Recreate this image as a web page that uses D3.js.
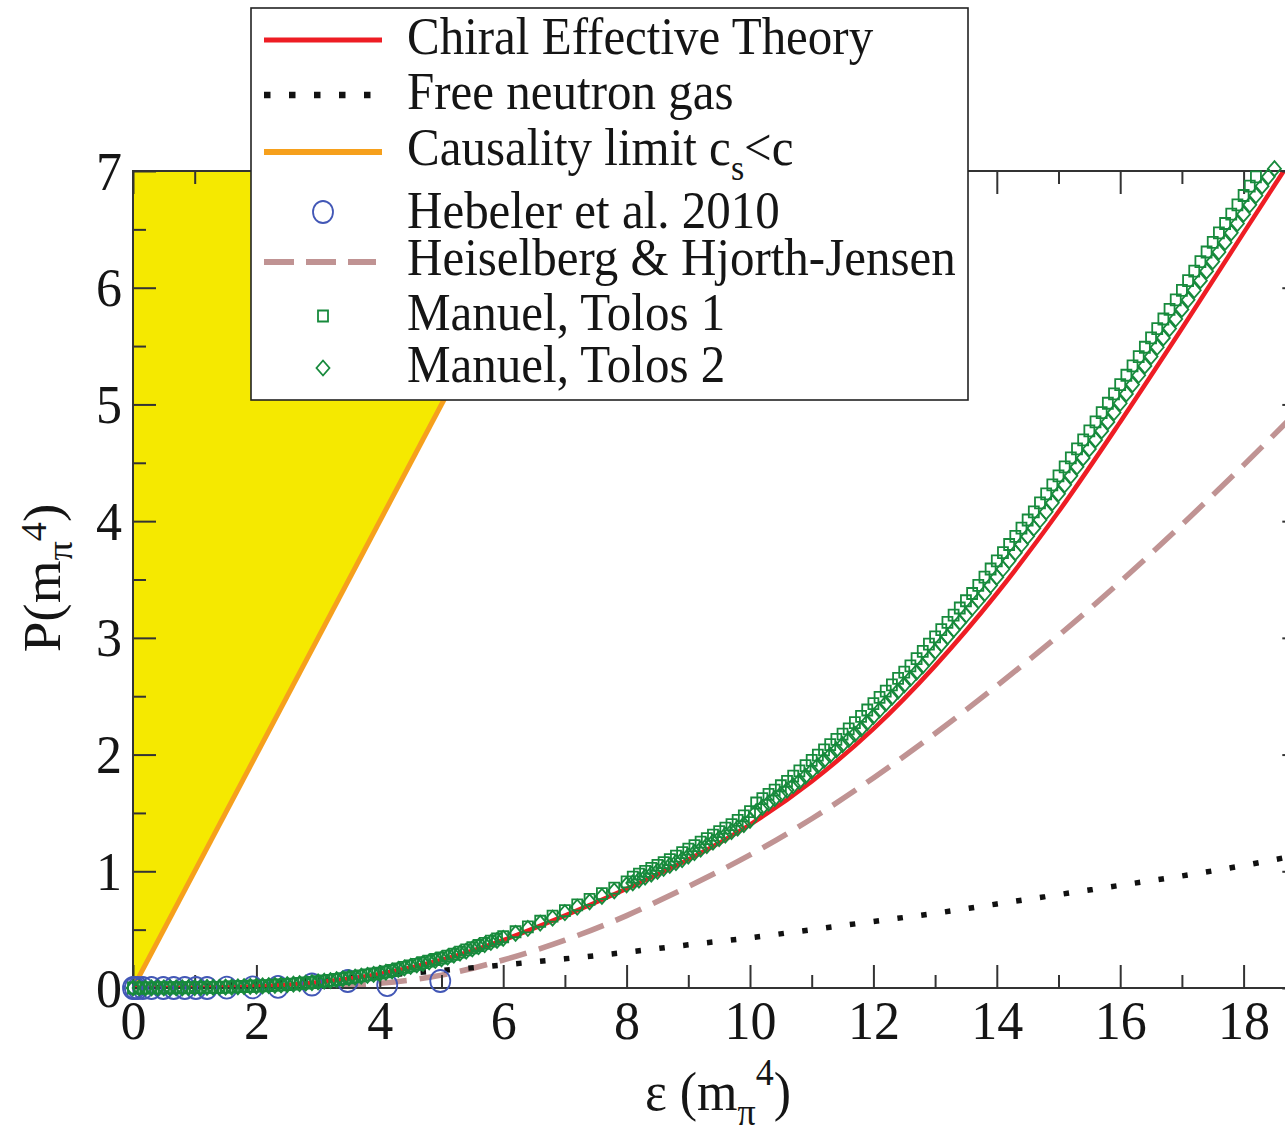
<!DOCTYPE html>
<html>
<head>
<meta charset="utf-8">
<script src="https://cdn.jsdelivr.net/npm/d3@7"></script>
<style>
  body { margin: 0; background: #fff; }
  svg { display: block; }
  text { font-family: "Liberation Serif", "Times New Roman", serif; fill: #151515; }
</style>
</head>
<body>
<svg id="chart" width="1285" height="1136"></svg>
<script>
// ---- data (energy density ε and pressure P, both in m_π^4) ----
const xTicksMajor = [0, 2, 4, 6, 8, 10, 12, 14, 16, 18];
const xTicksMinor = [1, 3, 5, 7, 9, 11, 13, 15, 17];
const yTicksMajor = [0, 1, 2, 3, 4, 5, 6, 7];
const yTicksMinor = [0.5, 1.5, 2.5, 3.5, 4.5, 5.5, 6.5];

// causality limit P = ε
const causalE = [0, 7.2];
const causalP = [0, 7.2];

// chiral effective theory
const chiralE = [0, 1, 2, 3, 4, 5, 6, 7, 8, 9, 10, 11, 12, 13, 14, 15, 16, 17, 18, 18.65];
const chiralP = [0, 0.003, 0.015, 0.05, 0.12, 0.24, 0.41, 0.62, 0.85, 1.10, 1.40, 1.77, 2.22, 2.76, 3.38, 4.08, 4.85, 5.65, 6.47, 7.0];

// free neutron gas
const freeE = [0, 1, 2, 3, 4, 5, 6, 7, 8, 9, 10, 11, 12, 13, 14, 15, 16, 17, 18, 18.7];
const freeP = [0, 0.013, 0.037, 0.069, 0.107, 0.15, 0.198, 0.25, 0.306, 0.37, 0.43, 0.50, 0.57, 0.64, 0.72, 0.80, 0.88, 0.96, 1.05, 1.12];

// Heiselberg & Hjorth-Jensen
const hhjE = [0, 2, 3, 4, 5, 6, 7, 8, 9, 10, 11, 12, 13, 14, 15, 16, 17, 18, 18.7];
const hhjP = [0, 0.0, 0.01, 0.04, 0.11, 0.24, 0.41, 0.62, 0.87, 1.14, 1.45, 1.80, 2.18, 2.59, 3.02, 3.48, 3.97, 4.48, 4.85];

// Hebeler et al. 2010
const hebelerE = [0.0, 0.03, 0.08, 0.16, 0.3, 0.49, 0.66, 0.84, 1.02, 1.2, 1.52, 1.94, 2.35, 2.9, 3.48, 4.12, 4.98];
const hebelerP = [0, 0, 0, 0, 0, 0, 0, 0, 0, 0, 0.003, 0.005, 0.01, 0.03, 0.06, 0.025, 0.06];

// Manuel, Tolos (shared energy grid)
const manuelE = [0, 0.1, 0.2, 0.3, 0.4, 0.5, 0.6, 0.7, 0.8, 0.9, 1, 1.1, 1.2, 1.3, 1.4, 1.5, 1.6, 1.7, 1.8, 1.9,
  2, 2.1, 2.2, 2.3, 2.4, 2.5, 2.6, 2.7, 2.8, 2.9, 3, 3.1, 3.2, 3.3, 3.4, 3.5, 3.6, 3.7, 3.8, 3.9,
  4, 4.1, 4.2, 4.3, 4.4, 4.5, 4.6, 4.7, 4.8, 4.9, 5, 5.1, 5.2, 5.3, 5.4, 5.5, 5.6, 5.7, 5.8, 5.9,
  6, 6.2, 6.4, 6.6, 6.8, 7, 7.2, 7.4, 7.6, 7.8, 8,
  8.1, 8.2, 8.3, 8.4, 8.5, 8.6, 8.7, 8.8, 8.9, 9, 9.1, 9.2, 9.3, 9.4, 9.5, 9.6, 9.7, 9.8, 9.9, 10,
  10.1, 10.2, 10.3, 10.4, 10.5, 10.6, 10.7, 10.8, 10.9, 11, 11.1, 11.2, 11.3, 11.4, 11.5, 11.6, 11.7, 11.8, 11.9, 12,
  12.1, 12.2, 12.3, 12.4, 12.5, 12.6, 12.7, 12.8, 12.9, 13, 13.1, 13.2, 13.3, 13.4, 13.5, 13.6, 13.7, 13.8, 13.9, 14,
  14.1, 14.2, 14.3, 14.4, 14.5, 14.6, 14.7, 14.8, 14.9, 15, 15.1, 15.2, 15.3, 15.4, 15.5, 15.6, 15.7, 15.8, 15.9, 16,
  16.1, 16.2, 16.3, 16.4, 16.5, 16.6, 16.7, 16.8, 16.9, 17, 17.1, 17.2, 17.3, 17.4, 17.5, 17.6, 17.7, 17.8, 17.9, 18,
  18.1, 18.2, 18.3, 18.4, 18.5];
const manuel1P = [0, 0, 0, 0.001, 0.001, 0.002, 0.002, 0.002, 0.002, 0.003, 0.003, 0.004, 0.005, 0.006, 0.006, 0.007, 0.009, 0.011, 0.013, 0.015,
  0.016, 0.019, 0.021, 0.024, 0.027, 0.03, 0.034, 0.039, 0.043, 0.048, 0.054, 0.06, 0.066, 0.073, 0.08, 0.088, 0.096, 0.104, 0.112, 0.12,
  0.128, 0.139, 0.15, 0.163, 0.177, 0.19, 0.203, 0.217, 0.23, 0.244, 0.257, 0.273, 0.289, 0.307, 0.326, 0.345, 0.364, 0.382, 0.401, 0.42,
  0.439, 0.482, 0.524, 0.572, 0.615, 0.663, 0.712, 0.76, 0.808, 0.856, 0.91,
  0.95, 0.975, 1.0, 1.025, 1.05, 1.075, 1.1, 1.13, 1.16, 1.19,
  1.22, 1.25, 1.28, 1.31, 1.34, 1.37, 1.4, 1.437, 1.474, 1.511,
  1.585, 1.622, 1.659, 1.696, 1.733, 1.77, 1.815, 1.86, 1.905, 1.95,
  1.995, 2.04, 2.085, 2.13, 2.175, 2.22, 2.274, 2.328, 2.382, 2.436,
  2.49, 2.544, 2.598, 2.652, 2.706, 2.76, 2.822, 2.884, 2.946, 3.008,
  3.07, 3.132, 3.194, 3.256, 3.318, 3.38, 3.45, 3.52, 3.59, 3.66,
  3.73, 3.8, 3.87, 3.94, 4.01, 4.08, 4.157, 4.234, 4.311, 4.388,
  4.465, 4.542, 4.619, 4.696, 4.773, 4.85, 4.93, 5.01, 5.09, 5.17,
  5.25, 5.33, 5.41, 5.49, 5.57, 5.65, 5.732, 5.814, 5.896, 5.978,
  6.06, 6.142, 6.224, 6.306, 6.388, 6.47, 6.55, 6.63, 6.71, 6.79,
  6.87, 6.95];
const manuel2P = [0, 0, 0, 0.001, 0.001, 0.002, 0.002, 0.002, 0.002, 0.003, 0.003, 0.004, 0.005, 0.005, 0.006, 0.007, 0.008, 0.01, 0.012, 0.014,
  0.016, 0.018, 0.021, 0.023, 0.026, 0.029, 0.033, 0.037, 0.042, 0.047, 0.052, 0.058, 0.064, 0.071, 0.078, 0.086, 0.094, 0.101, 0.109, 0.117,
  0.125, 0.135, 0.146, 0.159, 0.172, 0.185, 0.198, 0.211, 0.224, 0.237, 0.25, 0.265, 0.281, 0.299, 0.317, 0.335, 0.354, 0.372, 0.39, 0.408,
  0.426, 0.468, 0.51, 0.556, 0.598, 0.645, 0.692, 0.738, 0.785, 0.832, 0.884,
  0.9, 0.925, 0.95, 0.975, 1.0, 1.025, 1.05, 1.075, 1.1, 1.13,
  1.16, 1.19, 1.22, 1.25, 1.28, 1.31, 1.34, 1.37, 1.4, 1.437,
  1.511, 1.548, 1.585, 1.622, 1.659, 1.696, 1.733, 1.77, 1.815, 1.86,
  1.905, 1.95, 1.995, 2.04, 2.085, 2.13, 2.175, 2.22, 2.274, 2.328,
  2.382, 2.436, 2.49, 2.544, 2.598, 2.652, 2.706, 2.76, 2.822, 2.884,
  2.946, 3.008, 3.07, 3.132, 3.194, 3.256, 3.318, 3.38, 3.45, 3.52,
  3.59, 3.66, 3.73, 3.8, 3.87, 3.94, 4.01, 4.08, 4.157, 4.234,
  4.311, 4.388, 4.465, 4.542, 4.619, 4.696, 4.773, 4.85, 4.93, 5.01,
  5.09, 5.17, 5.25, 5.33, 5.41, 5.49, 5.57, 5.65, 5.732, 5.814,
  5.896, 5.978, 6.06, 6.142, 6.224, 6.306, 6.388, 6.47, 6.55, 6.63,
  6.71, 6.79, 6.87, 6.95, 7.02];

const legendLabels = ["Chiral Effective Theory", "Free neutron gas", "Causality limit c", "Hebeler et al. 2010",
  "Heiselberg & Hjorth-Jensen", "Manuel, Tolos 1", "Manuel, Tolos 2"];

// ---- styles ----
const C = {
  red: "#ee1d24", orange: "#f6a01c", yellow: "#f5e900", black: "#111",
  dash: "#c09393", blue: "#4257b6", green: "#178a3c", axis: "#333"
};
const SY = 1.06;   // glyph aspect used for all text
const FS = 52;
const FONT = '"Liberation Serif", "Times New Roman", serif';

const pairs = (xs, ys) => xs.slice(0, ys.length).map((e, i) => [e, ys[i]]);

const svg = d3.select("#chart");
const x = d3.scaleLinear().domain([0, 19]).range([133, 1305.3]);
const y = d3.scaleLinear().domain([0, 7]).range([988, 171]);

svg.append("defs").append("clipPath").attr("id", "plotClip").append("rect")
  .attr("x", x(0)).attr("y", y(7)).attr("width", x(19) - x(0)).attr("height", y(0) - y(7));

const plot = svg.append("g").attr("clip-path", "url(#plotClip)");

// causally forbidden region (P > ε)
plot.append("path")
  .datum(pairs(causalE, causalP))
  .attr("fill", C.yellow)
  .attr("d", d3.area().y(d => y(d[1])).x0(x(0)).x1(d => x(d[0])));

// ---- axes ----
function tickAxis(gen, vals, size, tf, labels) {
  const g = svg.append("g").attr("transform", tf)
    .call(gen.tickValues(vals).tickSize(size).tickSizeOuter(0)
      .tickFormat(labels ? d3.format("d") : ""));
  g.attr("font-family", FONT).attr("font-size", FS);
  g.select(".domain").remove();
  g.selectAll(".tick line").attr("stroke", C.axis).attr("stroke-width", 2);
  return g;
}
const bx = tickAxis(d3.axisBottom(x), xTicksMajor, -23, `translate(0,${y(0)})`, true);
bx.selectAll(".tick text").attr("y", null).attr("dy", null)
  .attr("transform", `translate(0,51) scale(1,${SY})`).attr("fill", "#151515");
tickAxis(d3.axisBottom(x), xTicksMinor, -13, `translate(0,${y(0)})`, false);
tickAxis(d3.axisTop(x), xTicksMajor, -23, `translate(0,${y(7)})`, false);
tickAxis(d3.axisTop(x), xTicksMinor, -13, `translate(0,${y(7)})`, false);

const ly = tickAxis(d3.axisLeft(y), yTicksMajor, -23, `translate(${x(0)},0)`, true);
ly.selectAll(".tick text").attr("x", null).attr("dy", null).attr("text-anchor", "end")
  .attr("transform", `translate(-11,18) scale(1,${SY})`).attr("fill", "#151515");
tickAxis(d3.axisLeft(y), yTicksMinor, -13, `translate(${x(0)},0)`, false);
tickAxis(d3.axisRight(y), yTicksMajor, -23, `translate(${x(19)},0)`, false);
tickAxis(d3.axisRight(y), yTicksMinor, -13, `translate(${x(19)},0)`, false);

svg.append("rect")
  .attr("x", x(0)).attr("y", y(7)).attr("width", x(19) - x(0)).attr("height", y(0) - y(7))
  .attr("fill", "none").attr("stroke", C.axis).attr("stroke-width", 2);

// ---- curves ----
const line = d3.line().x(d => x(d[0])).y(d => y(d[1])).curve(d3.curveMonotoneX);

plot.append("path").datum(pairs(causalE, causalP))
  .attr("fill", "none").attr("stroke", C.orange).attr("stroke-width", 5).attr("d", line);

// Hebeler circles
const markers = svg.append("g");
markers.selectAll("ellipse.heb").data(pairs(hebelerE, hebelerP)).join("ellipse")
  .attr("class", "heb")
  .attr("cx", d => x(d[0])).attr("cy", d => y(d[1])).attr("rx", 10).attr("ry", 11)
  .attr("fill", "none").attr("stroke", C.blue).attr("stroke-width", 1.8);

plot.append("path").datum(pairs(hhjE, hhjP))
  .attr("fill", "none").attr("stroke", C.dash).attr("stroke-width", 5.5)
  .attr("stroke-dasharray", "28 13").attr("d", line);

plot.append("path").datum(pairs(freeE, freeP))
  .attr("fill", "none").attr("stroke", C.black).attr("stroke-width", 5.5)
  .attr("stroke-dasharray", "5.5 18.5").attr("d", line);

plot.append("path").datum(pairs(chiralE, chiralP))
  .attr("fill", "none").attr("stroke", C.red).attr("stroke-width", 4.5).attr("d", line);

// Manuel, Tolos markers
const sq = (cx, cy) => `M${cx - 5},${cy - 5.5}h10v11h-10Z`;
const dm = (cx, cy) => `M${cx},${cy - 7.5}L${cx + 6.5},${cy}L${cx},${cy + 7.5}L${cx - 6.5},${cy}Z`;

markers.selectAll("path.mt1").data(pairs(manuelE, manuel1P)).join("path")
  .attr("class", "mt1").attr("d", d => sq(x(d[0]), y(d[1])))
  .attr("fill", "none").attr("stroke", C.green).attr("stroke-width", 1.8);
markers.selectAll("path.mt2").data(pairs(manuelE, manuel2P)).join("path")
  .attr("class", "mt2").attr("d", d => dm(x(d[0]), y(d[1])))
  .attr("fill", "none").attr("stroke", C.green).attr("stroke-width", 1.8);

// ---- axis titles ----
const xt = svg.append("g").attr("transform", `translate(718,1110) scale(1,${SY})`)
  .append("text").attr("text-anchor", "middle").attr("font-size", 52);
xt.append("tspan").text("ε (m");
xt.append("tspan").attr("font-size", 36).attr("dy", 14).text("π");
xt.append("tspan").attr("font-size", 36).attr("dy", -38).text("4");
xt.append("tspan").attr("dy", 24).text(")");

const yt = svg.append("g").attr("transform", `translate(60,578) rotate(-90) scale(${SY},1)`)
  .append("text").attr("text-anchor", "middle").attr("font-size", 52);
yt.append("tspan").text("P(m");
yt.append("tspan").attr("font-size", 36).attr("dy", 12).text("π");
yt.append("tspan").attr("font-size", 36).attr("dy", -26).text("4");
yt.append("tspan").attr("dy", 14).text(")");

// ---- legend ----
const lg = svg.append("g");
lg.append("rect").attr("x", 251).attr("y", 8).attr("width", 717).attr("height", 392)
  .attr("fill", "#fff").attr("stroke", "#222").attr("stroke-width", 1.6);

const rowsY = [40, 95, 152, 212, 262, 316, 368];
const baseY = [54, 109, 165, 228, 275, 330, 382];
const sx0 = 264, sx1 = 382, scx = 323;

lg.append("line").attr("x1", sx0).attr("x2", sx1).attr("y1", rowsY[0]).attr("y2", rowsY[0])
  .attr("stroke", C.red).attr("stroke-width", 5);
lg.append("line").attr("x1", sx0).attr("x2", sx1).attr("y1", rowsY[1]).attr("y2", rowsY[1])
  .attr("stroke", C.black).attr("stroke-width", 6.5).attr("stroke-dasharray", "6.5 18.5");
lg.append("line").attr("x1", sx0).attr("x2", sx1).attr("y1", rowsY[2]).attr("y2", rowsY[2])
  .attr("stroke", C.orange).attr("stroke-width", 6);
lg.append("ellipse").attr("cx", scx).attr("cy", rowsY[3]).attr("rx", 10).attr("ry", 11)
  .attr("fill", "none").attr("stroke", C.blue).attr("stroke-width", 1.8);
lg.append("line").attr("x1", sx0).attr("x2", sx1 - 6).attr("y1", rowsY[4]).attr("y2", rowsY[4])
  .attr("stroke", C.dash).attr("stroke-width", 6).attr("stroke-dasharray", "30 12");
lg.append("path").attr("d", sq(scx, rowsY[5])).attr("fill", "none").attr("stroke", C.green).attr("stroke-width", 1.8);
lg.append("path").attr("d", dm(scx, rowsY[6])).attr("fill", "none").attr("stroke", C.green).attr("stroke-width", 1.8);

legendLabels.forEach((t, i) => {
  const tx = lg.append("g").attr("transform", `translate(407,${baseY[i]}) scale(1,${SY})`)
    .append("text").attr("font-size", 49);
  tx.append("tspan").text(t);
  if (i === 2) {
    tx.append("tspan").attr("font-size", 34).attr("dy", 14).text("s");
    tx.append("tspan").attr("dy", -14).text("<c");
  }
});
</script>
</body>
</html>
